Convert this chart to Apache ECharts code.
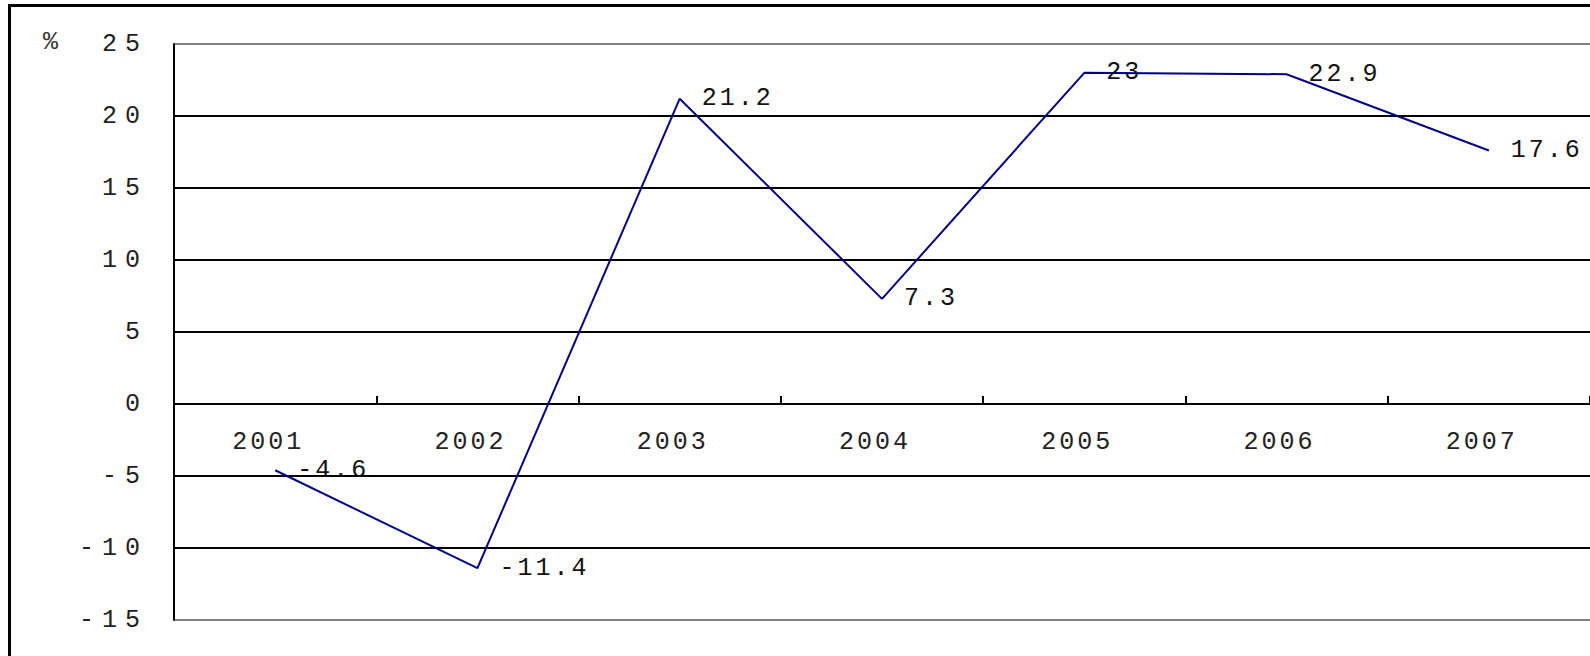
<!DOCTYPE html>
<html>
<head>
	<meta charset="utf-8">
	<title>增长率</title>
	<script src="https://cdn.jsdelivr.net/npm/echarts@6/dist/echarts.min.js"></script>
	<style>
	html, body {
		margin: 0;
		height: 100%;
		background: #fff;
	}
	#main {
		width: 1590px;
		height: 656px;
		letter-spacing: 3px;
	}
	/* y轴刻度字距更宽 */
	#main text[text-anchor="end"] {
		letter-spacing: 8px;
	}
	</style>
</head>
<body>
<div id="main"></div>
<script>
	var years = ['2001', '2002', '2003', '2004', '2005', '2006', '2007'];
	var rate = [-4.6, -11.4, 21.2, 7.3, 23, 22.9, 17.6];
	var yMin = -15, yMax = 25, yStep = 5;

	var FONT = 'Liberation Mono';
	var GRID_TOP = 44, GRID_BOTTOM = 36, H = 656;

	// 上下边线灰色，中间网格线黑色
	var splitColors = [];
	for (var v = yMin; v <= yMax; v += yStep) {
		splitColors.push(v === yMin || v === yMax ? '#808080' : '#000');
	}
	// x轴放在0刻度处（用offset上移）
	var plotH = H - GRID_TOP - GRID_BOTTOM;
	var zeroOffset = -plotH * (0 - yMin) / (yMax - yMin);

	var myChart = echarts.init(document.getElementById('main'), null, {renderer: 'svg'});

	var option = {
		backgroundColor: '#fff',
		animation: false,
		grid: {
			left: 174,
			right: 0,
			top: GRID_TOP,
			bottom: GRID_BOTTOM
		},
		xAxis: {
			type: 'category',
			data: years,
			boundaryGap: true,
			position: 'bottom',
			offset: zeroOffset,
			axisLine: {
				onZero: false,
				lineStyle: {color: '#000', width: 2}
			},
			axisTick: {
				show: true,
				inside: true,
				length: 8,
				lineStyle: {color: '#000', width: 2}
			},
			axisLabel: {
				margin: 26,
				fontSize: 25,
				fontFamily: FONT,
				color: '#222',
				padding: [0, 14, 0, 0]
			}
		},
		yAxis: {
			type: 'value',
			min: yMin,
			max: yMax,
			interval: yStep,
			name: '%',
			nameLocation: 'end',
			nameGap: 2,
			nameTextStyle: {
				fontSize: 25,
				fontFamily: FONT,
				color: '#333',
				align: 'right',
				verticalAlign: 'middle',
				padding: [0, 108, 0, 0]
			},
			axisLine: {
				show: true,
				lineStyle: {color: '#000', width: 2}
			},
			axisTick: {show: false},
			axisLabel: {
				margin: 26,
				fontSize: 25,
				fontFamily: FONT,
				color: '#222'
			},
			splitLine: {
				show: true,
				lineStyle: {color: splitColors, width: 2}
			}
		},
		graphic: [{
			type: 'rect',
			silent: true,
			z: 100,
			shape: {x: 9.5, y: 5.5, width: 1800, height: 900},
			style: {fill: 'none', stroke: '#000', lineWidth: 3}
		}],
		series: [{
			type: 'line',
			data: rate,
			symbol: 'circle',
			symbolSize: 0,
			itemStyle: {color: '#000080'},
			lineStyle: {color: '#000080', width: 2},
			label: {
				show: true,
				position: 'right',
				distance: 22,
				fontSize: 25,
				fontFamily: FONT,
				color: '#111'
			}
		}]
	};
	myChart.setOption(option);
</script>
</body>
</html>
